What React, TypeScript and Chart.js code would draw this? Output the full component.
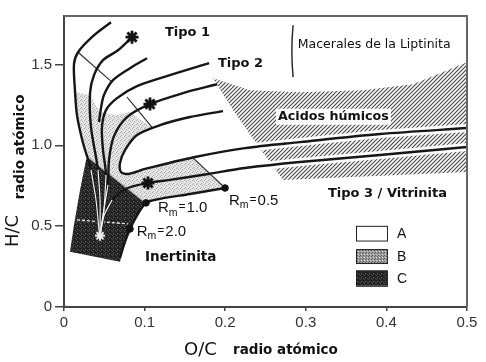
import React, { useEffect, useRef } from "react";
import { Chart, registerables } from "chart.js";

Chart.register(...registerables);

// ---- axis ticks ----
const xTickValues = [0, 0.1, 0.2, 0.3, 0.4, 0.5];
const yTickValues = [0, 0.5, 1.0, 1.5];

// ---- curves: [O/C, H/C] ----
const tipo1Outer = [[0.0583, 1.761], [0.036, 1.675], [0.0174, 1.576], [0.0124, 1.502], [0.0136, 1.341], [0.0161, 1.187], [0.0236, 1.014], [0.0335, 0.848], [0.0397, 0.662], [0.0434, 0.477], [0.0447, 0.415]];
const tipo1Inner = [[0.0844, 1.669], [0.067, 1.588], [0.0484, 1.527], [0.0372, 1.434], [0.0323, 1.323], [0.0335, 1.113], [0.0422, 0.848], [0.0447, 0.662], [0.0447, 0.44]];
const tipo1Short = [[0.103, 1.539], [0.0819, 1.477], [0.0608, 1.403], [0.0496, 1.311], [0.0459, 1.23], [0.0434, 1.144]];
const tipo2Upper = [[0.18, 1.508], [0.1315, 1.434], [0.0906, 1.366], [0.0658, 1.292], [0.0521, 1.218], [0.0471, 1.113], [0.0484, 0.971], [0.0521, 0.817], [0.0496, 0.601], [0.0447, 0.44]];
const tipo2Middle = [[0.19, 1.378], [0.1476, 1.323], [0.1067, 1.255], [0.0782, 1.175], [0.062, 1.057], [0.0558, 0.909], [0.0546, 0.755], [0.0484, 0.57], [0.0447, 0.44]];
const tipo2Lower3Upper = [[0.1973, 1.212], [0.1563, 1.175], [0.1191, 1.125], [0.0906, 1.064], [0.0757, 0.971], [0.0695, 0.891], [0.0707, 0.835], [0.0794, 0.823], [0.1005, 0.854], [0.1625, 0.928], [0.2246, 0.983], [0.2928, 1.02], [0.392, 1.07], [0.5, 1.107]];
const tipo3Lower = [[0.5, 0.99], [0.392, 0.94], [0.2928, 0.897], [0.2246, 0.86], [0.1787, 0.823], [0.1315, 0.786], [0.1042, 0.767], [0.0794, 0.736], [0.0596, 0.662], [0.0496, 0.564], [0.0447, 0.44]];
const rmCurve = [[0.1998, 0.736], [0.1563, 0.699], [0.1191, 0.669], [0.1017, 0.644], [0.0918, 0.576], [0.0819, 0.483], [0.0744, 0.385], [0.0695, 0.304]];

// thin iso-lines
const crossTipo1 = [[0.0174, 1.576], [0.0596, 1.391]];
const crossTipo2 = [[0.0782, 1.298], [0.11, 1.107]];
const isoRm05 = [[0.1588, 0.928], [0.1998, 0.736]];
const isoRm10 = [[0.0298, 0.928], [0.1017, 0.644]];
const isoRm20 = [[0.0161, 0.539], [0.0794, 0.514]];

// regions
const regionB = [[0.0149, 1.329], [0.0323, 1.31], [0.0447, 1.206], [0.0633, 1.187], [0.0819, 1.206], [0.11, 1.107], [0.0906, 1.064], [0.0757, 0.971], [0.0695, 0.891], [0.0707, 0.835], [0.0794, 0.823], [0.1005, 0.854], [0.1588, 0.928], [0.1998, 0.736], [0.1563, 0.699], [0.1191, 0.669], [0.1017, 0.644], [0.0298, 0.928], [0.0236, 1.014], [0.0161, 1.187]];
const regionC = [[0.0273, 0.909], [0.0298, 0.928], [0.1017, 0.644], [0.0918, 0.576], [0.0819, 0.483], [0.0744, 0.385], [0.0695, 0.28], [0.0074, 0.341], [0.0124, 0.508], [0.0199, 0.724]];
const humicAcids = [[0.1849, 1.415], [0.2308, 1.341], [0.2928, 1.329], [0.371, 1.341], [0.433, 1.378], [0.5, 1.514], [0.5, 0.835], [0.2717, 0.786], [0.2382, 1.014], [0.2097, 1.218]];

// markers
const stars = [[0.0844, 1.669], [0.1067, 1.255], [0.1042, 0.767]];
const whiteStars = [[0.0447, 0.44]];
const rmDots = [[0.1998, 0.736], [0.1017, 0.644], [0.0819, 0.483]];

// labels
const rmLabels = [
  { value: "1.0", x: 0.1166, y: 0.613 },
  { value: "2.0", x: 0.0902, y: 0.467 },
  { value: "0.5", x: 0.2047, y: 0.659 },
];
const textLabels = [
  { text: "Tipo 1", x: 0.1253, y: 1.70, font: "bold 13px 'DejaVu Sans'", bg: false },
  { text: "Tipo 2", x: 0.191, y: 1.508, font: "bold 13px 'DejaVu Sans'", bg: false },
  { text: "Macerales de la Liptinita", x: 0.29, y: 1.623, font: "12.5px 'DejaVu Sans'", bg: false },
  { text: "Acidos húmicos", x: 0.2655, y: 1.177, font: "bold 12.7px 'DejaVu Sans'", bg: true },
  { text: "Tipo 3 / Vitrinita", x: 0.3275, y: 0.699, font: "bold 13px 'DejaVu Sans'", bg: false },
  { text: "Inertinita", x: 0.1005, y: 0.304, font: "bold 13.5px 'DejaVu Sans'", bg: false },
];
const bracket = [[0.283, 1.743], [0.283, 1.422]];
const legendLabels = ["A", "B", "C"];
const legendBoxX = [0.3623, 0.4007];
const legendBoxY = [[0.502, 0.411], [0.358, 0.272], [0.226, 0.131]];
const legendTextX = 0.413;

const pts = (a: number[][]) => a.map(([x, y]) => ({ x, y }));
const closed = (a: number[][]) => pts([...a, a[0]]);

// inside the dark zone = below the Rm 1.0 iso-line
const belowIso = (p: number[]) => {
  const [[x1, y1], [x2, y2]] = isoRm10;
  const t = (p[0] - x1) / (x2 - x1);
  return p[1] < y1 + t * (y2 - y1) - 0.005;
};

function makePattern(size: number, bg: string, draw: (g: CanvasRenderingContext2D) => void) {
  const c = document.createElement("canvas");
  c.width = size;
  c.height = size;
  const g = c.getContext("2d")!;
  g.fillStyle = bg;
  g.fillRect(0, 0, size, size);
  draw(g);
  return g.createPattern(c, "repeat")!;
}

export default function App() {
  const ref = useRef<HTMLCanvasElement | null>(null);

  useEffect(() => {
    document.body.style.margin = "0";
    const canvas = ref.current;
    if (!canvas) return;

    const hatch = makePattern(4, "#ffffff", (g) => {
      g.strokeStyle = "#4a4a4a";
      g.lineWidth = 1.2;
      g.beginPath();
      g.moveTo(0, 4); g.lineTo(4, 0);
      g.moveTo(-1, 1); g.lineTo(1, -1);
      g.moveTo(3, 5); g.lineTo(5, 3);
      g.stroke();
    });
    const light = makePattern(4, "#e6e6e6", (g) => {
      g.fillStyle = "#a8a8a8";
      g.fillRect(0, 0, 1, 1); g.fillRect(2, 1, 1, 1); g.fillRect(1, 3, 1, 1);
      g.fillStyle = "#c8c8c8";
      g.fillRect(3, 2, 1, 1);
    });
    const dark = makePattern(4, "#222222", (g) => {
      g.fillStyle = "#6a6a6a";
      g.fillRect(1, 1, 1, 1);
      g.fillStyle = "#505050";
      g.fillRect(3, 2, 1, 1); g.fillRect(0, 3, 1, 1);
    });
    const medium = makePattern(3, "#9e9e9e", (g) => {
      g.fillStyle = "#5e5e5e";
      g.fillRect(0, 0, 1, 1); g.fillRect(2, 1, 1, 1);
      g.fillStyle = "#d2d2d2";
      g.fillRect(1, 2, 1, 1);
    });

    const curve = (d: number[][], order: number, color = "#161616", width = 2.4, tension = 0.3) => ({
      data: pts(d), showLine: true, borderColor: color, borderWidth: width,
      pointRadius: 0, tension, fill: false, order,
    });
    const region = (d: number[][], bg: any, order: number) => ({
      data: closed(d), showLine: true, borderWidth: 0, borderColor: "rgba(0,0,0,0)",
      backgroundColor: bg, fill: "shape", pointRadius: 0, tension: 0, order,
    });

    const mainCurves = [tipo1Outer, tipo1Inner, tipo2Upper, tipo2Middle, tipo3Lower];

    const datasets: any[] = [
      region(humicAcids, hatch, 20),
      curve(tipo2Lower3Upper.filter((p) => p[0] >= 0.2), 19, "#ffffff", 8, 0.2),
      curve(tipo3Lower.filter((p) => p[0] >= 0.2), 19, "#ffffff", 8, 0.2),
      region(regionB, light, 18),
      region(regionC, dark, 17),
      curve(crossTipo1, 12, "#2a2a2a", 1.1, 0),
      curve(crossTipo2, 12, "#2a2a2a", 1.1, 0),
      curve(isoRm05, 12, "#2a2a2a", 1.1, 0),
      curve(isoRm10, 12, "#bbbbbb", 1.3, 0),
      { ...curve(isoRm20, 12, "#e8e8e8", 1.3, 0), borderDash: [3, 2] },
      curve(tipo1Short, 10),
      curve(tipo2Lower3Upper, 10),
      curve(rmCurve, 10),
      ...mainCurves.map((c) => curve(c, 10)),
      ...mainCurves.map((c) => curve(c.filter(belowIso), 9, "#f4f4f4", 1.2)),
      {
        data: pts(stars), showLine: false, pointStyle: "star", pointRadius: 6.5,
        borderColor: "#111", borderWidth: 2.8, backgroundColor: "#111", order: 2,
      },
      {
        data: pts(whiteStars), showLine: false, pointStyle: "star", pointRadius: 5,
        borderColor: "#eee", borderWidth: 2, backgroundColor: "#eee", order: 2,
      },
      {
        data: pts(rmDots), showLine: false, pointStyle: "circle", pointRadius: 3.3,
        borderColor: "#111", borderWidth: 1, backgroundColor: "#111", order: 2,
      },
    ];

    const decor = {
      id: "decor",
      afterDatasetsDraw(chart: any) {
        const { ctx } = chart;
        const xs = chart.scales.x;
        const ys = chart.scales.y;
        const px = (v: number) => xs.getPixelForValue(v);
        const py = (v: number) => ys.getPixelForValue(v);
        ctx.save();
        // bracket
        ctx.strokeStyle = "#222";
        ctx.lineWidth = 1.4;
        ctx.beginPath();
        const bx = px(bracket[0][0]);
        const by1 = py(bracket[0][1]);
        const by2 = py(bracket[1][1]);
        ctx.moveTo(bx + 1, by1);
        ctx.quadraticCurveTo(bx - 1.5, (by1 + by2) / 2, bx + 1, by2);
        ctx.stroke();
        // text labels
        ctx.textBaseline = "middle";
        ctx.textAlign = "left";
        for (const t of textLabels) {
          ctx.font = t.font;
          const x = px(t.x);
          const y = py(t.y);
          if (t.bg) {
            const w = ctx.measureText(t.text).width;
            ctx.fillStyle = "#fff";
            ctx.fillRect(x - 2, y - 8, w + 4, 16);
          }
          ctx.fillStyle = "#111";
          ctx.fillText(t.text, x, y);
        }
        // Rm labels
        for (const r of rmLabels) {
          let x = px(r.x);
          const y = py(r.y);
          ctx.fillStyle = "#111";
          ctx.font = "15px 'Liberation Sans'";
          ctx.fillText("R", x, y);
          x += ctx.measureText("R").width;
          ctx.font = "10.5px 'Liberation Sans'";
          ctx.fillText("m", x, y + 5);
          x += ctx.measureText("m").width + 1;
          ctx.font = "12px 'Liberation Sans'";
          ctx.fillText("=", x, y - 1);
          x += ctx.measureText("=").width + 1;
          ctx.font = "15px 'Liberation Sans'";
          ctx.fillText(r.value, x, y);
        }
        // legend
        const fills = ["#ffffff", medium, dark];
        legendLabels.forEach((lab, i) => {
          const x1 = px(legendBoxX[0]);
          const x2 = px(legendBoxX[1]);
          const y1 = py(legendBoxY[i][0]);
          const y2 = py(legendBoxY[i][1]);
          ctx.fillStyle = fills[i];
          ctx.fillRect(x1, y1, x2 - x1, y2 - y1);
          ctx.strokeStyle = "#222";
          ctx.lineWidth = 1;
          ctx.strokeRect(x1 + 0.5, y1 + 0.5, x2 - x1, y2 - y1);
          ctx.fillStyle = "#111";
          ctx.font = "14px 'Liberation Sans'";
          ctx.fillText(lab, px(legendTextX), (y1 + y2) / 2 + 1);
        });
        ctx.restore();
      },
      afterDraw(chart: any) {
        const { ctx, chartArea } = chart;
        ctx.save();
        // top & right frame
        ctx.strokeStyle = "#666";
        ctx.lineWidth = 2;
        ctx.beginPath();
        ctx.moveTo(chartArea.left, chartArea.top);
        ctx.lineTo(chartArea.right, chartArea.top);
        ctx.lineTo(chartArea.right, chartArea.bottom);
        ctx.stroke();
        // axis titles
        ctx.fillStyle = "#111";
        ctx.textBaseline = "middle";
        ctx.textAlign = "left";
        ctx.font = "18px 'DejaVu Sans'";
        ctx.fillText("O/C", 184, 350);
        ctx.font = "bold 13.5px 'DejaVu Sans'";
        ctx.fillText("radio atómico", 233, 350);
        ctx.save();
        ctx.translate(13, 231);
        ctx.rotate(-Math.PI / 2);
        ctx.textAlign = "center";
        ctx.font = "18px 'DejaVu Sans'";
        ctx.fillText("H/C", 0, 0);
        ctx.restore();
        ctx.save();
        ctx.translate(20, 147);
        ctx.rotate(-Math.PI / 2);
        ctx.textAlign = "center";
        ctx.font = "bold 13.5px 'DejaVu Sans'";
        ctx.fillText("radio atómico", 0, 0);
        ctx.restore();
        ctx.restore();
      },
    };

    const fmt = (v: any) => (Number(v) === 0 ? "0" : Number(v).toFixed(1));

    const chart = new Chart(canvas, {
      type: "scatter",
      data: { datasets },
      options: {
        animation: false,
        responsive: true,
        maintainAspectRatio: false,
        events: [],
        layout: { padding: { top: 16, right: 19, left: 0, bottom: 0 } },
        plugins: { legend: { display: false }, tooltip: { enabled: false } },
        scales: {
          x: {
            type: "linear",
            min: 0,
            max: 0.5,
            afterBuildTicks: (s: any) => { s.ticks = xTickValues.map((v) => ({ value: v })); },
            afterFit: (s: any) => { s.height = 55; },
            ticks: {
              callback: fmt, autoSkip: false, maxRotation: 0, padding: 3,
              color: "#333", font: { family: "'Liberation Sans'", size: 15 },
            },
            grid: { drawOnChartArea: false, drawTicks: true, tickLength: 4, color: "#444", lineWidth: 1.5 },
            border: { display: true, color: "#444", width: 2 },
          },
          y: {
            type: "linear",
            min: 0,
            max: 1.8,
            afterBuildTicks: (s: any) => { s.ticks = yTickValues.map((v) => ({ value: v })); },
            afterFit: (s: any) => { s.width = 64; },
            ticks: {
              callback: fmt, autoSkip: false, padding: 3,
              color: "#333", font: { family: "'Liberation Sans'", size: 15 },
            },
            grid: { drawOnChartArea: false, drawTicks: true, tickLength: 9, color: "#444", lineWidth: 1.5 },
            border: { display: true, color: "#444", width: 2 },
          },
        },
      } as any,
      plugins: [decor],
    });

    return () => chart.destroy();
  }, []);

  return (
    <div style={{ width: 486, height: 362, position: "relative", background: "#fff" }}>
      <canvas ref={ref} />
    </div>
  );
}
